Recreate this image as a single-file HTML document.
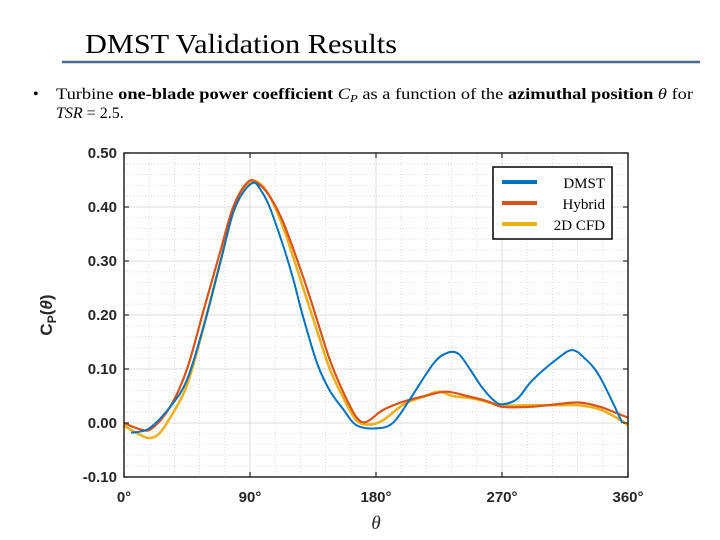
<!DOCTYPE html>
<html><head><meta charset="utf-8">
<style>
html,body{margin:0;padding:0;background:#fff;}
svg{display:block;}
.serif{font-family:"Liberation Serif",serif;}
.sans{font-family:"Liberation Sans",sans-serif;}
</style></head>
<body>
<svg id="chart" width="720" height="540" viewBox="0 0 720 540" xmlns="http://www.w3.org/2000/svg">
  <text class="serif" x="85" y="53" font-size="27" textLength="312" lengthAdjust="spacingAndGlyphs" fill="#000">DMST Validation Results</text>
  <line x1="62" y1="62" x2="700" y2="62" stroke="#4a6a8c" stroke-width="2.5"/>
  <text class="serif" x="33" y="99" font-size="16">•</text>
  <text class="serif" x="56" y="99" font-size="16" textLength="637" lengthAdjust="spacingAndGlyphs">Turbine <tspan font-weight="bold">one-blade power coefficient</tspan> <tspan font-style="italic">C</tspan><tspan font-style="italic" font-size="11" dy="3">P</tspan><tspan dy="-3"> as a function of the </tspan><tspan font-weight="bold">azimuthal position</tspan> <tspan font-style="italic">θ</tspan> for</text>
  <text class="serif" x="56" y="118" font-size="16"><tspan font-style="italic">TSR</tspan> = 2.5.</text>
  <g id="grid"></g>
  <g id="series"></g>
  <rect x="124" y="153" width="504" height="324" fill="none" stroke="#262626" stroke-width="1.5"/>
  <g id="axes"></g>
  <text class="sans" x="52" y="315" font-size="17" font-weight="bold" text-anchor="middle" transform="rotate(-90 52 315)" fill="#262626">C<tspan font-size="12" dy="4">P</tspan><tspan dy="-4">(</tspan><tspan font-style="italic">θ</tspan>)</text>
  <text class="serif" x="376" y="529" font-size="19" font-style="italic" text-anchor="middle" fill="#262626">θ</text>
  <g>
    <rect x="493" y="167" width="119" height="72" fill="#fff" stroke="#000" stroke-width="1.5"/>
    <line x1="502" y1="182" x2="537" y2="182" stroke="#0072BD" stroke-width="4"/>
    <text class="serif" x="605" y="188" font-size="15" text-anchor="end">DMST</text>
    <line x1="502" y1="203" x2="537" y2="203" stroke="#D95319" stroke-width="4"/>
    <text class="serif" x="605" y="209" font-size="15" text-anchor="end">Hybrid</text>
    <line x1="502" y1="224" x2="537" y2="224" stroke="#EDB120" stroke-width="4"/>
    <text class="serif" x="605" y="230" font-size="15" text-anchor="end">2D CFD</text>
  </g>
</svg>
<script>
const xTickValues = [0, 90, 180, 270, 360];
const xTickLabels = ["0°", "90°", "180°", "270°", "360°"];
const yTickValues = [-0.1, 0, 0.1, 0.2, 0.3, 0.4, 0.5];
const yTickLabels = ["-0.10", "0.00", "0.10", "0.20", "0.30", "0.40", "0.50"];

const dmstTheta = [5, 18, 33, 45, 57, 69, 78, 86, 93, 98, 104, 114, 121, 128, 138, 147, 157, 166, 180, 192, 204, 221, 231, 239, 247, 256, 265, 271, 281, 292, 310, 320, 329, 340, 356];
const dmstCp    = [-0.018, -0.01, 0.03, 0.08, 0.18, 0.30, 0.39, 0.43, 0.445, 0.43, 0.40, 0.326, 0.265, 0.196, 0.11, 0.06, 0.024, -0.004, -0.01, 0.0, 0.043, 0.11, 0.13, 0.128, 0.10, 0.065, 0.04, 0.035, 0.045, 0.08, 0.12, 0.135, 0.12, 0.085, 0.0];

const hybridTheta = [0, 12, 20, 33, 45, 57, 69, 78, 88, 95, 104, 114, 128, 138, 147, 157, 166, 173, 185, 200, 215, 230, 245, 260, 270, 290, 310, 325, 340, 355, 360];
const hybridCp    = [0.0, -0.012, -0.01, 0.03, 0.10, 0.21, 0.32, 0.40, 0.445, 0.445, 0.42, 0.37, 0.27, 0.19, 0.117, 0.055, 0.011, 0.002, 0.024, 0.04, 0.05, 0.058, 0.05, 0.04, 0.03, 0.03, 0.035, 0.038, 0.03, 0.015, 0.01];

const cfdTheta = [0, 10, 18, 25, 33, 45, 57, 69, 78, 88, 95, 104, 114, 128, 138, 147, 157, 166, 175, 185, 200, 215, 225, 235, 250, 270, 290, 310, 325, 340, 355, 360];
const cfdCp    = [-0.005, -0.02, -0.028, -0.02, 0.01, 0.07, 0.18, 0.30, 0.39, 0.44, 0.447, 0.42, 0.36, 0.25, 0.17, 0.10, 0.045, 0.005, -0.003, 0.005, 0.035, 0.05, 0.058, 0.05, 0.045, 0.033, 0.033, 0.033, 0.033, 0.025, 0.005, -0.005];

const X0 = 124, X1 = 628, Y0 = 477, Y1 = 153;
const xScale = v => X0 + (v - 0) / 360 * (X1 - X0);
const yScale = v => Y0 - (v + 0.1) / 0.6 * (Y0 - Y1);
const NS = "http://www.w3.org/2000/svg";
function mk(tag, attrs, parent) {
  const e = document.createElementNS(NS, tag);
  for (const k in attrs) e.setAttribute(k, attrs[k]);
  parent.appendChild(e);
  return e;
}
const grid = document.getElementById("grid");
const axes = document.getElementById("axes");
for (let i = 0; i <= 20; i++) {
  const x = xScale(i * 18);
  const l = mk("line", {x1: x, x2: x, y1: Y1, y2: Y0, stroke: "#d4d4d4", "stroke-width": 0.8, "stroke-dasharray": "1 2"}, grid);
  
  
}
for (let i = 0; i <= 30; i++) {
  const y = yScale(-0.1 + i * 0.02);
  const l = mk("line", {x1: X0, x2: X1, y1: y, y2: y, stroke: "#d4d4d4", "stroke-width": 0.8, "stroke-dasharray": "1 2"}, grid);
  
  
}
xTickValues.forEach((v, i) => {
  const x = xScale(v);
  const l = mk("line", {x1: x, x2: x, y1: Y1, y2: Y0, stroke: "#dcdcdc", "stroke-width": 1}, grid);
  
  
  const t1 = mk("line", {x1: x, x2: x, y1: Y0, y2: Y0 - 5, stroke: "#262626", "stroke-width": 1.2}, axes);
  
  
  const t2 = mk("line", {x1: x, x2: x, y1: Y1, y2: Y1 + 5, stroke: "#262626", "stroke-width": 1.2}, axes);
  
  
  const tx = mk("text", {x: x, y: 502, "text-anchor": "middle", "font-size": 15, "font-weight": "bold", fill: "#262626", class: "sans"}, axes);
  tx.textContent = xTickLabels[i];
  
  
});
yTickValues.forEach((v, i) => {
  const y = yScale(v);
  const l = mk("line", {x1: X0, x2: X1, y1: y, y2: y, stroke: "#dcdcdc", "stroke-width": 1}, grid);
  
  
  const t1 = mk("line", {x1: X0, x2: X0 + 5, y1: y, y2: y, stroke: "#262626", "stroke-width": 1.2}, axes);
  
  
  const t2 = mk("line", {x1: X1, x2: X1 - 5, y1: y, y2: y, stroke: "#262626", "stroke-width": 1.2}, axes);
  
  
  const tx = mk("text", {x: 117, y: y + 5, "text-anchor": "end", "font-size": 15, "font-weight": "bold", fill: "#262626", class: "sans"}, axes);
  tx.textContent = yTickLabels[i];
  
  
});
const series = document.getElementById("series");
function smoothPath(xs, ys) {
  const p = xs.map((v, i) => [xScale(v), yScale(ys[i])]);
  let d = "M" + p[0][0].toFixed(1) + "," + p[0][1].toFixed(1);
  for (let i = 0; i < p.length - 1; i++) {
    const a = p[i - 1] || p[i], b = p[i], c = p[i + 1], e = p[i + 2] || c;
    const c1 = [b[0] + (c[0] - a[0]) / 6, b[1] + (c[1] - a[1]) / 6];
    const c2 = [c[0] - (e[0] - b[0]) / 6, c[1] - (e[1] - b[1]) / 6];
    d += " C" + c1.map(n => n.toFixed(1)).join(",") + " " + c2.map(n => n.toFixed(1)).join(",") + " " + c.map(n => n.toFixed(1)).join(",");
  }
  return d;
}
const s1 = mk("path", {d: smoothPath(cfdTheta, cfdCp), fill: "none", stroke: "#EDB120", "stroke-width": 2.6}, series);


const s2 = mk("path", {d: smoothPath(hybridTheta, hybridCp), fill: "none", stroke: "#D95319", "stroke-width": 2.2}, series);


const s3 = mk("path", {d: smoothPath(dmstTheta, dmstCp), fill: "none", stroke: "#0072BD", "stroke-width": 2}, series);


</script>
</body></html>
